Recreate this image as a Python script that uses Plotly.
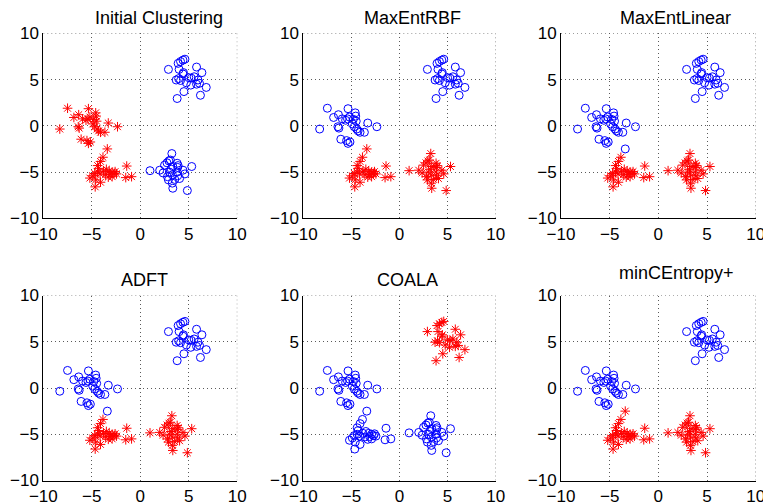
import plotly.graph_objects as go

# ---- data (four 2-D clusters, shared by all panels) ----
A_x = [-7.5, -5.35, -8.3, -6.85, -6.35, -5.95, -6.4, -6.3, -5.4, -5.2, -4.6, -4.55, -4.8, -4.5,
       -4.7, -4.45, -4.3, -4.1, -3.65, -3.3, -2.35, -6.1, -5.5, -5.15, -5.35, -4.9, -5.6]
A_y = [1.9, 1.85, -0.35, 0.9, 1.2, 0.75, -0.1, -0.25, 0.75, 0.95, 1.4, 1.05, 0.7, 0.5,
       -0.1, -0.35, -0.55, -0.7, -0.7, 0.3, -0.1, -1.45, -1.6, -1.75, -1.9, 0.2, 0.6]

B_x = [-3.4, -3.85, -4.1, -4.4, -4.3, -1.4, -5.2, -4.7, -4.9, -4.6, -4.65, -4.1, -3.8, -3.5,
       -3.2, -3.1, -2.9, -2.7, -2.45, -2.6, -3.3, -4.15, -3.6, -1.5, -0.9, -2.9, -4.4]
B_y = [-2.5, -3.4, -3.85, -4.3, -4.6, -4.35, -5.65, -5.15, -5.4, -5.85, -6.6, -6.1, -4.9, -4.7,
       -4.9, -5.25, -5.0, -5.15, -5.2, -4.95, -5.55, -5.2, -5.3, -5.6, -5.5, -5.5, -5.0]

C_x = [2.9, 3.9, 4.15, 4.4, 4.6, 4.0, 4.45, 4.4, 5.8, 6.35, 3.7, 4.15, 3.95, 4.75, 5.25,
       5.55, 5.95, 6.1, 5.2, 5.8, 6.8, 4.5, 6.2, 3.8, 5.0]
C_y = [6.1, 6.75, 6.95, 7.1, 7.2, 6.1, 5.75, 5.6, 6.35, 5.75, 4.95, 4.9, 5.1, 4.65, 5.15,
       5.3, 4.95, 4.6, 4.4, 4.5, 4.15, 3.7, 3.3, 2.95, 5.2]

D_x = [1.0, 2.0, 2.5, 2.75, 2.95, 3.1, 3.25, 2.35, 2.8, 2.9, 3.0, 3.2, 3.35, 3.8, 3.85, 3.8,
       3.85, 4.05, 3.55, 4.4, 4.6, 5.3, 3.35, 4.85, 3.3, 3.9, 3.3]
D_y = [-4.85, -4.8, -4.25, -4.0, -3.8, -3.7, -3.0, -5.1, -5.5, -5.85, -5.0, -4.7, -4.4, -4.05,
       -4.5, -5.0, -5.4, -5.7, -5.8, -4.8, -5.2, -4.4, -6.75, -7.0, -6.2, -4.3, -5.3]

titles = ["Initial Clustering", "MaxEntRBF", "MaxEntLinear", "ADFT", "COALA", "minCEntropy+"]
# clusters drawn as red '*' in each panel (others are blue 'o')
red_clusters = [["A", "B"], ["B", "D"], ["B", "D"], ["B", "D"], ["C"], ["B", "D"]]
# index of B-points that are flipped to blue in a panel
blue_override_B = [[], [], [0], [0], [], []]

tick_vals = [-10, -5, 0, 5, 10]
tick_text = ["\u221210", "\u22125", "0", "5", "10"]
axis_min, axis_max = -10, 10

# ---- layout geometry (page has an 8px body margin) ----
OFF = 8
W, H = 771 - OFF, 504 - OFF
col_px = [(43.3, 237.3), (303.3, 495.7), (561.0, 755.7)]
row_px = [(33.3, 218.3), (295.5, 480.5)]
title_pos = [(158.5, 17.5), (412.8, 18.0), (675.0, 17.5), (144.2, 280.0), (407.0, 280.0), (676.3, 272.5)]
FONT = "Liberation Sans, Arial, Helvetica"
GRID = dict(color="#5a5a5a", width=1, dash="1px,3px")

clusters = {"A": (A_x, A_y), "B": (B_x, B_y), "C": (C_x, C_y), "D": (D_x, D_y)}

def fx(px):
    return (px - OFF) / W

def fy(py):
    return 1 - (py - OFF) / H

fig = go.Figure()
for k in range(6):
    r, c = divmod(k, 3)
    ax = "" if k == 0 else str(k + 1)
    rx, ry, bx, by = [], [], [], []
    for name, (xs, ys) in clusters.items():
        for i, (x, y) in enumerate(zip(xs, ys)):
            red = name in red_clusters[k]
            if name == "B" and i in blue_override_B[k]:
                red = False
            if red:
                rx.append(x); ry.append(y)
            else:
                bx.append(x); by.append(y)
    fig.add_trace(go.Scatter(x=bx, y=by, mode="markers", xaxis="x" + ax, yaxis="y" + ax,
                             marker=dict(symbol="circle-open", size=8, color="#0000ff",
                                         line=dict(width=1, color="#0000ff")),
                             showlegend=False, hoverinfo="skip"))
    fig.add_trace(go.Scatter(x=rx, y=ry, mode="markers", xaxis="x" + ax, yaxis="y" + ax,
                             marker=dict(symbol="asterisk-open", size=8, color="#ff0000",
                                         line=dict(width=1, color="#ff0000")),
                             showlegend=False, hoverinfo="skip"))
    x0, x1 = col_px[c]
    y0, y1 = row_px[r]
    common = dict(showgrid=True, gridcolor=GRID["color"], griddash=GRID["dash"], gridwidth=1,
                  zeroline=False, showline=True, linecolor="black", linewidth=1,
                  mirror=False, ticks="", automargin=False,
                  tickfont=dict(family=FONT, size=17, color="black"),
                  range=[axis_min, axis_max], fixedrange=True,
                  tickvals=tick_vals, ticktext=tick_text)
    fig.layout["xaxis" + ax] = dict(domain=[fx(x0), fx(x1)], anchor="y" + ax, **common)
    fig.layout["yaxis" + ax] = dict(domain=[fy(y1), fy(y0)], anchor="x" + ax, **common)
    # dotted grid lines on the far edges (top and right), like MATLAB's grid with box off
    fig.add_shape(type="line", xref="x" + ax, yref="y" + ax, x0=axis_min, x1=axis_max,
                  y0=axis_max, y1=axis_max, line=GRID, layer="below")
    fig.add_shape(type="line", xref="x" + ax, yref="y" + ax, x0=axis_max, x1=axis_max,
                  y0=axis_min, y1=axis_max, line=GRID, layer="below")
    tx, ty = title_pos[k]
    fig.add_annotation(text=titles[k], xref="paper", yref="paper", x=fx(tx), y=fy(ty),
                       xanchor="center", yanchor="middle", showarrow=False,
                       font=dict(family=FONT, size=18, color="black"))

fig.update_layout(width=W, height=H, autosize=False, margin=dict(l=0, r=0, t=0, b=0),
                  paper_bgcolor="white", plot_bgcolor="white")
fig.write_html("out.html")
